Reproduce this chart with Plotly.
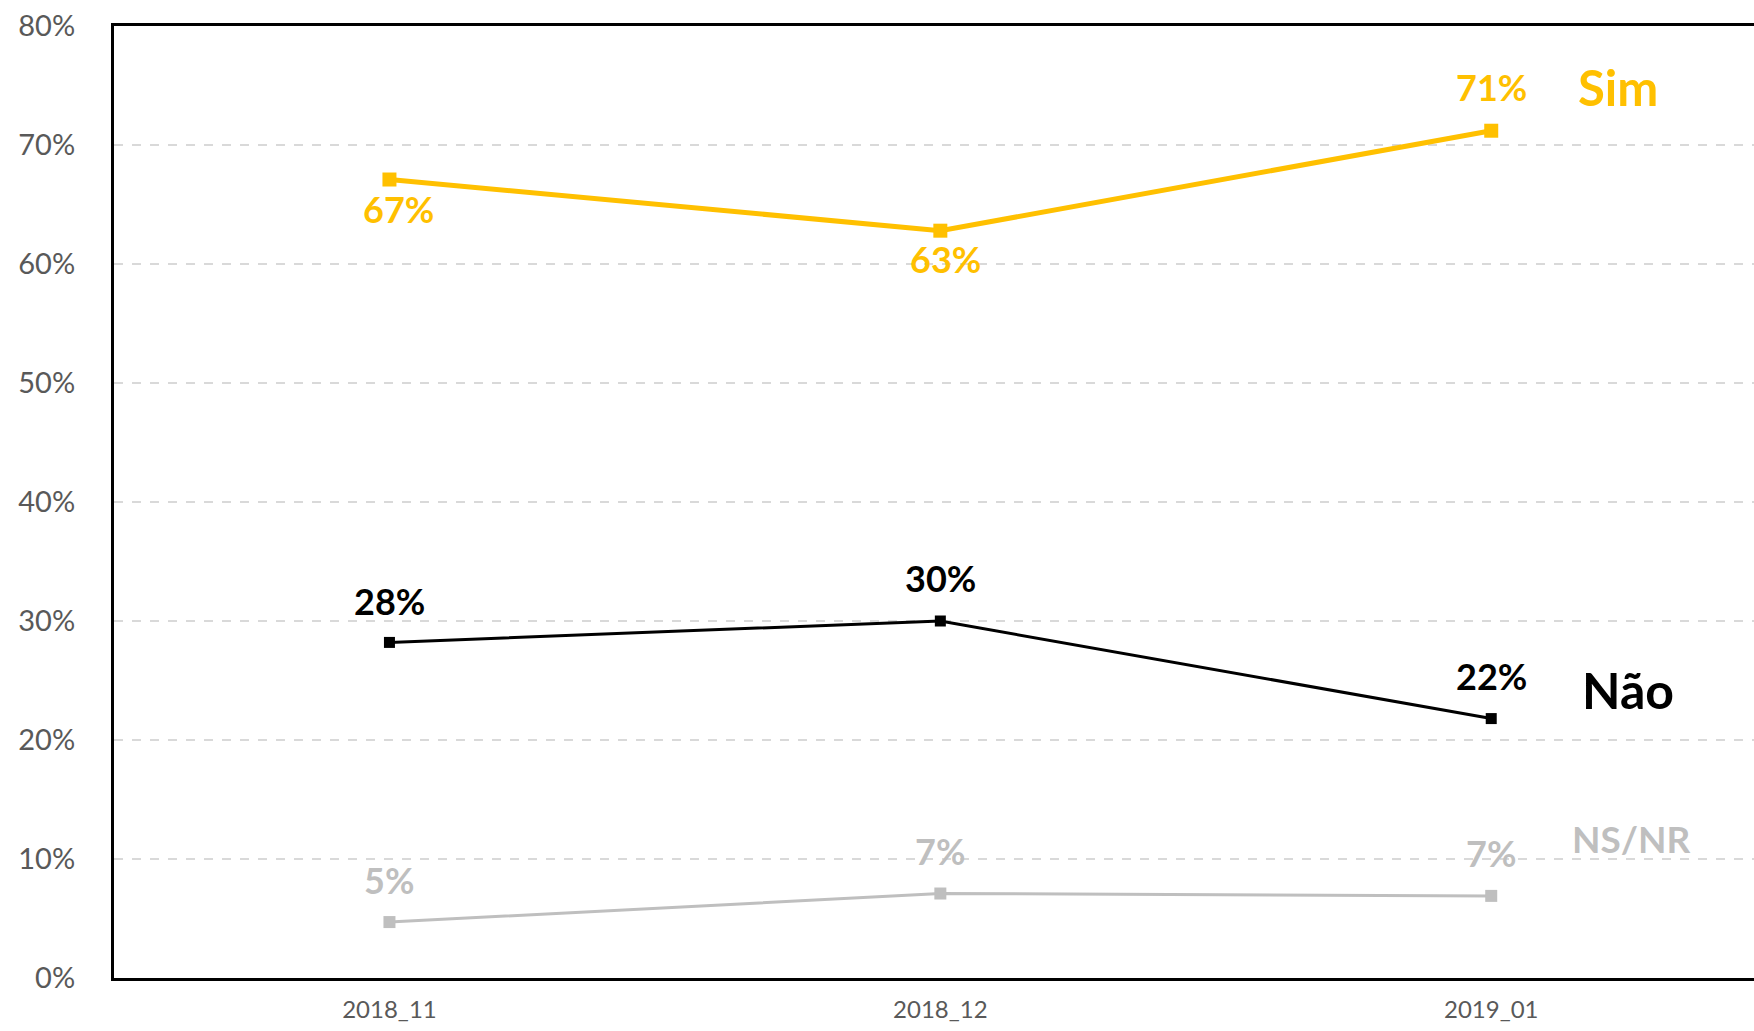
import plotly.graph_objects as go

# survey waves
waves = ["2018_11", "2018_12", "2019_01"]

# share of answers (%)
sim = [67.1, 62.8, 71.2]
nao = [28.2, 30.0, 21.8]
nsnr = [4.7, 7.1, 6.9]

series_names = ["Sim", "Não", "NS/NR"]
y_ticks = [0, 10, 20, 30, 40, 50, 60, 70, 80]

FONT = "Lato"
GOLD = "#FFC000"
GREY = "#BFBFBF"

fig = go.Figure()

fig.add_trace(go.Scatter(
    x=[0, 1, 2], y=sim, mode="lines+markers", name=series_names[0],
    line=dict(color=GOLD, width=5),
    marker=dict(symbol="square", size=14, color=GOLD),
))
fig.add_trace(go.Scatter(
    x=[0, 1, 2], y=nao, mode="lines+markers", name=series_names[1],
    line=dict(color="black", width=3),
    marker=dict(symbol="square", size=11, color="black"),
))
fig.add_trace(go.Scatter(
    x=[0, 1, 2], y=nsnr, mode="lines+markers", name=series_names[2],
    line=dict(color=GREY, width=3),
    marker=dict(symbol="square", size=12, color=GREY),
))

# data labels: (values, colour, per-point x/y shifts in px)
label_specs = [
    (sim, GOLD, [(9, -29), (5, -28), (0, 44)]),
    (nao, "black", [(0, 41), (0, 43), (0, 43)]),
    (nsnr, GREY, [(0, 42), (0, 43), (0, 43)]),
]
for values, color, shifts in label_specs:
    for i, v in enumerate(values):
        fig.add_annotation(
            x=i, y=v, text=f"<b>{round(v)}%</b>", showarrow=False,
            xshift=shifts[i][0], yshift=shifts[i][1],
            font=dict(family=FONT, size=36, color=color),
        )

# series names at the right end
name_specs = [
    (sim, GOLD, 49, 127, 44),
    (nao, "black", 50, 137, 29),
    (nsnr, GREY, 37, 140, 57),
]
for (values, color, size, dx, dy), name in zip(name_specs, series_names):
    fig.add_annotation(
        x=2, y=values[-1], text=f"<b>{name}</b>", showarrow=False,
        xshift=dx, yshift=dy,
        font=dict(family=FONT, size=size, color=color),
    )

fig.update_layout(
    width=1754, height=1031,
    margin=dict(l=114, r=0, t=26, b=53),
    plot_bgcolor="white", paper_bgcolor="white",
    showlegend=False,
)

fig.update_xaxes(
    range=[-0.5, 2.477],
    tickmode="array", tickvals=[0, 1, 2], ticktext=waves,
    tickfont=dict(family=FONT, size=24, color="#595959"),
    ticklabelstandoff=8,
    showgrid=False, zeroline=False,
    showline=True, linecolor="black", linewidth=3, mirror=True,
)
fig.update_yaxes(
    range=[0, 80],
    tickmode="array",
    tickvals=y_ticks, ticktext=[f"{t}%" for t in y_ticks],
    tickfont=dict(family=FONT, size=29, color="#595959"),
    ticklabelstandoff=30,
    showgrid=True, gridcolor="#D9D9D9", gridwidth=2, griddash="dash",
    zeroline=False,
    showline=True, linecolor="black", linewidth=3,
)

# drop the default 8px body margin so the figure fills the window exactly
fig.write_html(
    "out.html",
    config={"displayModeBar": False},
    post_script="document.body.style.margin = '0';",
)
